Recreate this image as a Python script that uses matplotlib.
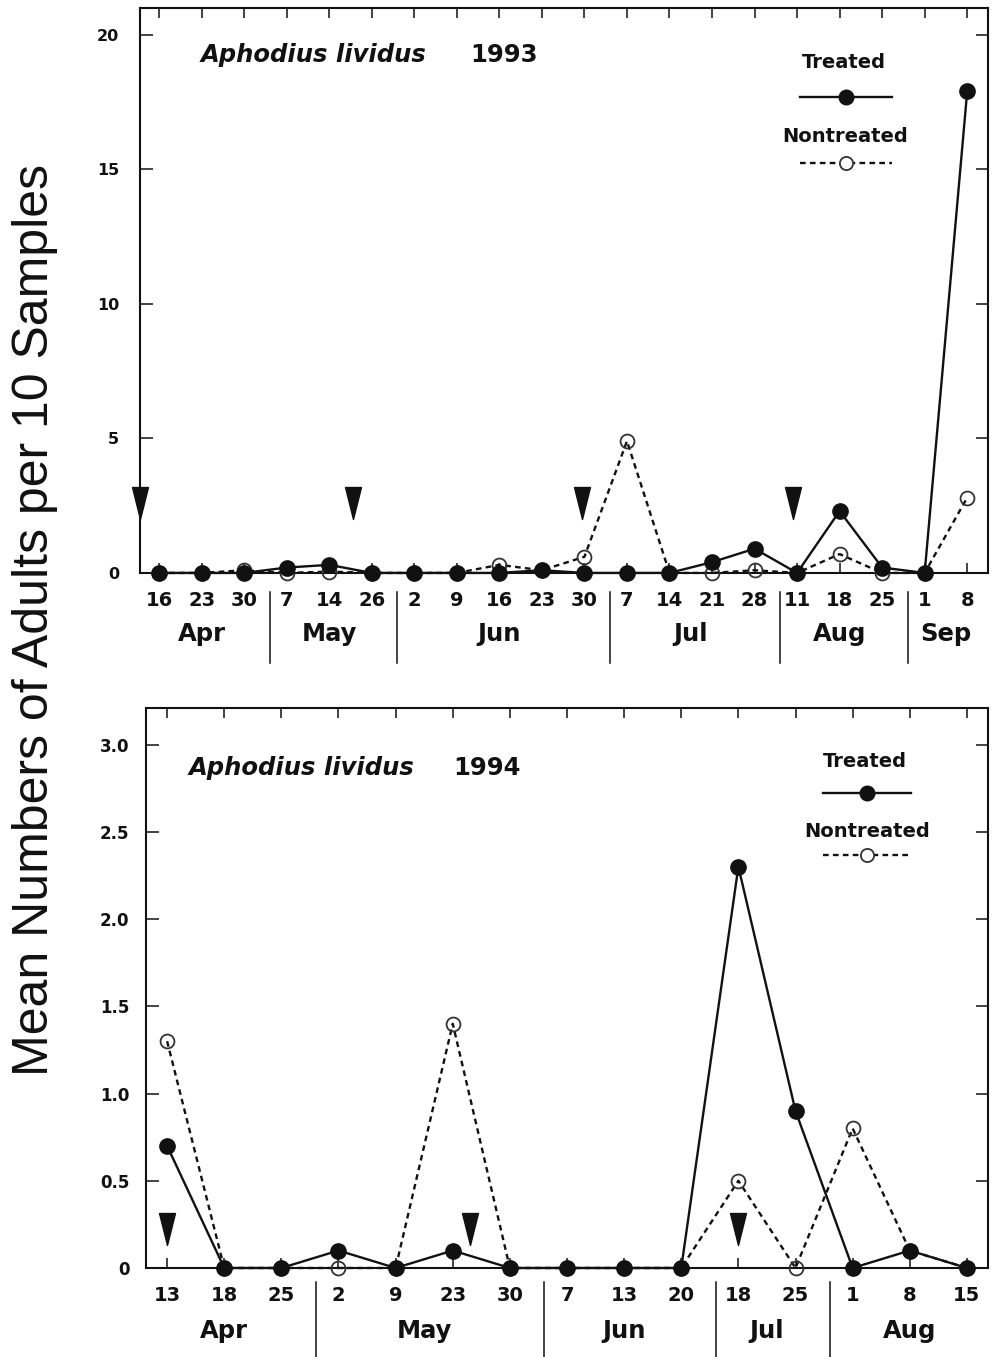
import matplotlib
matplotlib.use("Agg")
import matplotlib.pyplot as plt
from matplotlib.path import Path
import numpy as np

# ---- 1993 sampling dates and counts ----
days_1993 = ['16', '23', '30', '7', '14', '26', '2', '9', '16', '23', '30',
             '7', '14', '21', '28', '11', '18', '25', '1', '8']
months_1993 = ['Apr', 'May', 'Jun', 'Jul', 'Aug', 'Sep']
month_sizes_1993 = [3, 3, 5, 4, 3, 2]
treated_1993 = [0, 0, 0, 0.2, 0.3, 0, 0, 0, 0, 0.1, 0,
                0, 0, 0.4, 0.9, 0, 2.3, 0.2, 0, 17.9]
nontreated_1993 = [0, 0, 0.1, 0, 0.05, 0, 0, 0, 0.3, 0.1, 0.6,
                   4.9, 0, 0, 0.1, 0, 0.7, 0, 0, 2.8]
spray_1993 = [-0.45, 4.55, 9.95, 14.9]

# ---- 1994 sampling dates and counts ----
days_1994 = ['13', '18', '25', '2', '9', '23', '30', '7', '13', '20',
             '18', '25', '1', '8', '15']
months_1994 = ['Apr', 'May', 'Jun', 'Jul', 'Aug']
month_sizes_1994 = [3, 4, 3, 2, 3]
treated_1994 = [0.7, 0, 0, 0.1, 0, 0.1, 0, 0, 0, 0, 2.3, 0.9, 0, 0.1, 0]
nontreated_1994 = [1.3, 0, 0, 0, 0, 1.4, 0, 0, 0, 0, 0.5, 0, 0.8, 0.1, 0]
spray_1994 = [0, 5.3, 10]

BOLD = dict(family='DejaVu Sans', fontweight='bold')
INK = '#111111'
DASH = (0, (2.4, 1.8))

# tall, narrow downward arrowhead
arrow_marker = Path([(-0.5, 1.0), (0.5, 1.0), (0.0, -1.0), (-0.5, 1.0)],
                    [Path.MOVETO, Path.LINETO, Path.LINETO, Path.CLOSEPOLY])

fig = plt.figure(figsize=(9.93, 13.57), dpi=100)
fig.patch.set_facecolor('white')


def draw_panel(ax, days, months, sizes, treated, nontreated, sprays, spray_y,
               xlim, ylim, yticks, yticklabels, ytick_fs, ytick_pad,
               year, title_xy, year_x, legend, month_y, sep_y):
    x = np.arange(len(days))
    ax.plot(x, nontreated, linestyle=DASH, color=INK, lw=1.7, marker='o',
            ms=10, mfc='none', mec='#333333', mew=1.3, clip_on=False, zorder=3)
    ax.plot(x, treated, '-', color=INK, lw=1.7, marker='o', ms=11,
            mfc=INK, mec=INK, clip_on=False, zorder=4)
    ax.plot(sprays, [spray_y] * len(sprays), linestyle='none',
            marker=arrow_marker, ms=23, color=INK, clip_on=False, zorder=5)

    ax.set_xlim(*xlim)
    ax.set_ylim(*ylim)
    ax.set_xticks(x)
    ax.set_xticklabels(days, fontsize=14, **BOLD)
    ax.set_yticks(yticks)
    ax.set_yticklabels(yticklabels, fontsize=ytick_fs, **BOLD)
    ax.tick_params(axis='x', direction='in', length=7, width=1.1,
                   top=True, pad=13, colors=INK)
    ax.tick_params(axis='y', direction='in', length=9, width=1.1,
                   right=True, pad=ytick_pad, colors=INK)
    for s in ax.spines.values():
        s.set_linewidth(1.5)
        s.set_color(INK)

    # month names and separators beneath the day labels
    starts = np.cumsum([0] + sizes[:-1])
    for m, st, n in zip(months, starts, sizes):
        ax.text(st + (n - 1) / 2, month_y, m, transform=ax.get_xaxis_transform(),
                ha='center', va='center', fontsize=17.5, color=INK, **BOLD)
    for st, n in zip(starts[1:], sizes[1:]):
        ax.plot([st - 0.4, st - 0.4], sep_y, transform=ax.get_xaxis_transform(),
                color=INK, lw=1.1, clip_on=False)

    ax.text(title_xy[0], title_xy[1], 'Aphodius lividus', transform=ax.transAxes,
            ha='left', va='center', fontsize=17.5, family='DejaVu Sans',
            fontweight='bold', style='italic', color=INK)
    ax.text(year_x, title_xy[1], year, transform=ax.transAxes, ha='left',
            va='center', fontsize=17.5, color=INK, **BOLD)

    (tx, ty), (lx0, lx1, ly), (nx, ny), (dx0, dx1, dy) = legend
    mid = (lx0 + lx1) / 2
    ax.text(tx, ty, 'Treated', transform=ax.transAxes, ha='center', va='center',
            fontsize=14, color=INK, **BOLD)
    ax.plot([lx0, lx1], [ly, ly], '-', color=INK, lw=1.7, transform=ax.transAxes)
    ax.plot([mid], [ly], 'o', ms=10.5, color=INK, transform=ax.transAxes)
    ax.text(nx, ny, 'Nontreated', transform=ax.transAxes, ha='center', va='center',
            fontsize=14, color=INK, **BOLD)
    ax.plot([dx0, dx1], [dy, dy], linestyle=DASH, color=INK, lw=1.7,
            transform=ax.transAxes)
    ax.plot([mid], [dy], 'o', ms=9.5, mfc='white', mec='#333333', mew=1.3,
            transform=ax.transAxes)


ax1 = fig.add_axes([0.141, 0.5778, 0.854, 0.4163])
draw_panel(ax1, days_1993, months_1993, month_sizes_1993, treated_1993,
           nontreated_1993, spray_1993, 2.6,
           xlim=(-0.45, 19.49), ylim=(0, 21),
           yticks=[0, 5, 10, 15, 20], yticklabels=['0', '5', '10', '15', '20'],
           ytick_fs=11.5, ytick_pad=15,
           year='1993', title_xy=(0.071, 0.917), year_x=0.389,
           legend=((0.830, 0.903), (0.778, 0.887, 0.842),
                   (0.831, 0.773), (0.778, 0.887, 0.726)),
           month_y=-0.108, sep_y=[-0.033, -0.159])

ax2 = fig.add_axes([0.147, 0.0656, 0.848, 0.4127])
draw_panel(ax2, days_1994, months_1994, month_sizes_1994, treated_1994,
           nontreated_1994, spray_1994, 0.224,
           xlim=(-0.37, 14.37), ylim=(0, 3.21),
           yticks=[0, 0.5, 1.0, 1.5, 2.0, 2.5, 3.0],
           yticklabels=['0', '0.5', '1.0', '1.5', '2.0', '2.5', '3.0'],
           ytick_fs=12, ytick_pad=12,
           year='1994', title_xy=(0.051, 0.893), year_x=0.365,
           legend=((0.854, 0.904), (0.804, 0.909, 0.848),
                   (0.856, 0.779), (0.804, 0.909, 0.7375)),
           month_y=-0.1125, sep_y=[-0.025, -0.165])

fig.text(0.035, 0.543, 'Mean Numbers of Adults per 10 Samples', rotation=90,
         ha='center', va='center', fontsize=36, family='Liberation Sans',
         color=INK)

fig.savefig('out.png', dpi=100, facecolor='white')
